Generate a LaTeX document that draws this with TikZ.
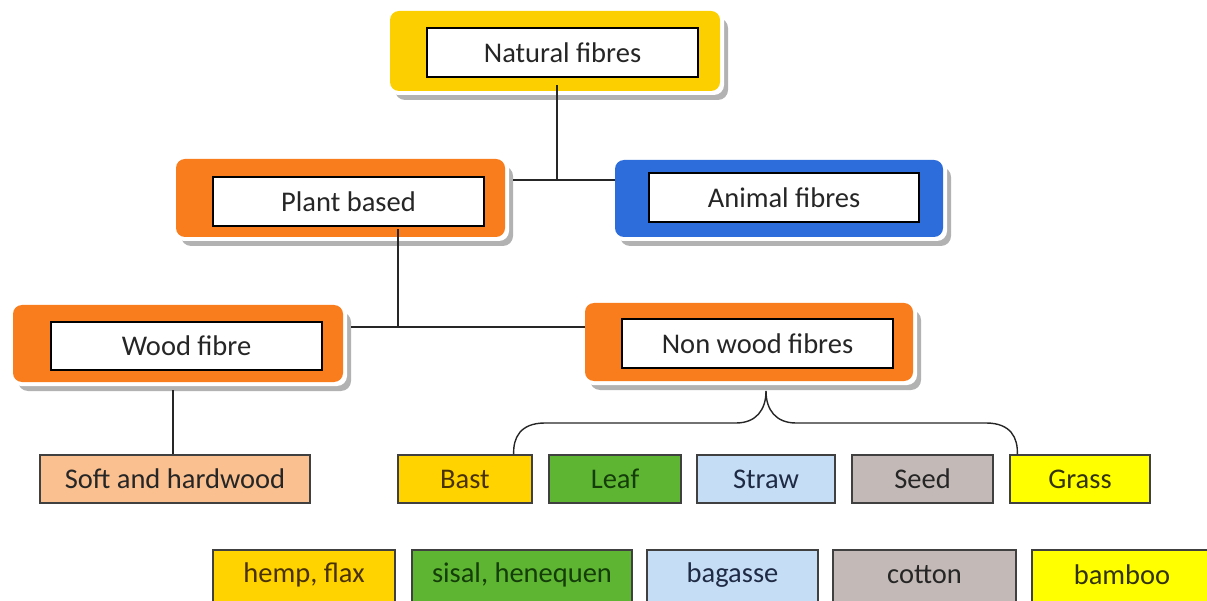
\documentclass[tikz,border=0pt]{standalone}
\usepackage{fontspec}
\setmainfont{Carlito}
\definecolor{cyel}{HTML}{FCD000}
\definecolor{corg}{HTML}{F97D1C}
\definecolor{cblu}{HTML}{2D6CDB}
\definecolor{cpea}{HTML}{FAC08F}
\definecolor{cgold}{HTML}{FFD300}
\definecolor{cgrn}{HTML}{5DB532}
\definecolor{csky}{HTML}{C6DDF6}
\definecolor{cgry}{HTML}{C3BAB7}
\definecolor{cyl}{HTML}{FFFF00}
\definecolor{ctxt}{HTML}{262626}
\definecolor{tbrn}{HTML}{4A3200}
\definecolor{tgrn}{HTML}{143D0A}
\definecolor{tnav}{HTML}{1F2A44}
\definecolor{tolv}{HTML}{33330A}
\tikzset{
  outerbox/.style={rounded corners=9pt, minimum width=329pt, minimum height=78pt, inner sep=0pt},
  innerbox/.style={draw=black, line width=1.6pt, fill=white, minimum width=271pt, minimum height=49pt, inner sep=0pt, font=\fontsize{28.5}{32}\selectfont, text=ctxt},
  leafbox/.style={draw=black!75, line width=1.4pt, minimum height=48pt, inner sep=0pt, font=\fontsize{28.5}{32}\selectfont},
  botbox/.style={draw=black!75, line width=1.4pt, minimum height=60pt, inner sep=0pt},
  botlbl/.style={inner sep=0pt, font=\fontsize{28.5}{32}\selectfont},
  conn/.style={draw=black!85, line width=1.4pt},
}
\newcommand{\shadowbox}[4]{% x1 y1 x2 y2
  \fill[black!30, rounded corners=10pt] (#1+5,#2+7) rectangle (#3+8,#4+9);
  \fill[white, rounded corners=10pt] (#1-2,#2-2) rectangle (#3+4,#4+4);
}
\begin{document}
\begin{tikzpicture}[x=1pt,y=-1pt]
\useasboundingbox (0,0) rectangle (1207,601);
% shadows
\shadowbox{390}{11}{720}{91}
\shadowbox{176}{159}{505}{237}
\shadowbox{615}{160}{943}{237}
\shadowbox{13}{305}{343}{382}
\shadowbox{585}{303}{913}{381}
% outer coloured boxes
\node[outerbox, fill=cyel, minimum width=330pt, minimum height=80pt] (natO) at (555,51) {};
\node[outerbox, fill=corg] (plantO) at (340.5,198) {};
\node[outerbox, fill=cblu, minimum width=328pt, minimum height=77pt] (animO) at (779,198.5) {};
\node[outerbox, fill=corg, minimum width=330pt, minimum height=77pt] (woodO) at (178,343.5) {};
\node[outerbox, fill=corg, minimum width=328pt] (nonO) at (749,342) {};
% inner boxes
\node[innerbox] (nat) at (562.5,52.5) {Natural fibres};
\node[innerbox] (plant) at (348.5,201.5) {Plant based};
\node[innerbox, minimum width=270pt] (anim) at (784,197.5) {Animal fibres};
\node[innerbox, minimum height=48pt] (wood) at (186.5,346) {Wood fibre};
\node[innerbox] (non) at (757.5,343.5) {Non wood fibres};
% leaf row
\node[leafbox, fill=cpea, minimum width=270pt, text=ctxt] (soft) at (175,479) {Soft and hardwood};
\node[leafbox, fill=cgold, minimum width=134pt, text=tbrn] (bast) at (465,479) {Bast};
\node[leafbox, fill=cgrn, minimum width=132pt, text=tgrn] (leaf) at (615,479) {Leaf};
\node[leafbox, fill=csky, minimum width=138pt, text=tnav] (straw) at (766,479) {Straw};
\node[leafbox, fill=cgry, minimum width=141pt, text=ctxt] (seed) at (922.5,479) {Seed};
\node[leafbox, fill=cyl, minimum width=140pt, text=tolv] (grass) at (1080,479) {Grass};
% bottom row
\node[botbox, fill=cgold, minimum width=182pt] (hemp) at (304,580) {};
\node[botbox, fill=cgrn, minimum width=220pt] (sisal) at (522,580) {};
\node[botbox, fill=csky, minimum width=171pt] (bag) at (732.5,580) {};
\node[botbox, fill=cgry, minimum width=183pt] (cot) at (924.5,580) {};
\node[botbox, fill=cyl, minimum width=184pt] (bam) at (1124,580) {};
\node[botlbl, text=tbrn] (hempT) at (304,575) {hemp, flax};
\node[botlbl, text=tgrn] (sisalT) at (522,575) {sisal, henequen};
\node[botlbl, text=tnav] (bagT) at (732.5,575) {bagasse};
\node[botlbl, text=ctxt] (cotT) at (924.5,575) {cotton};
\node[botlbl, text=tolv] (bamT) at (1122,575) {bamboo};
% connectors
\coordinate (j1) at (557,180);
\coordinate (j2) at (398,327);
\coordinate (j3) at (173,390);
\draw[conn] ([yshift=6pt]natO.south -| j1) -- (j1);
\draw[conn] ([xshift=8pt]plantO.east |- j1) -- (animO.west |- j1);
\draw[conn] ([yshift=8pt]plantO.south -| j2) -- (j2);
\draw[conn] ([xshift=8pt]woodO.east |- j2) -- (nonO.west |- j2);
\draw[conn] (j3) -- (soft.north -| j3);
% brace
\coordinate (b0) at (766,391);
\draw[conn] (b0) .. controls (766,410) and (756,423) .. (736,423) -- (545,423)
  .. controls (520,423) and (513,438) .. ([xshift=-19pt]bast.north east);
\draw[conn] (b0) .. controls (766,410) and (776,423) .. (796,423) -- (986,423)
  .. controls (1011,423) and (1018,438) .. ([xshift=8pt]grass.north west);
\end{tikzpicture}
\end{document}
